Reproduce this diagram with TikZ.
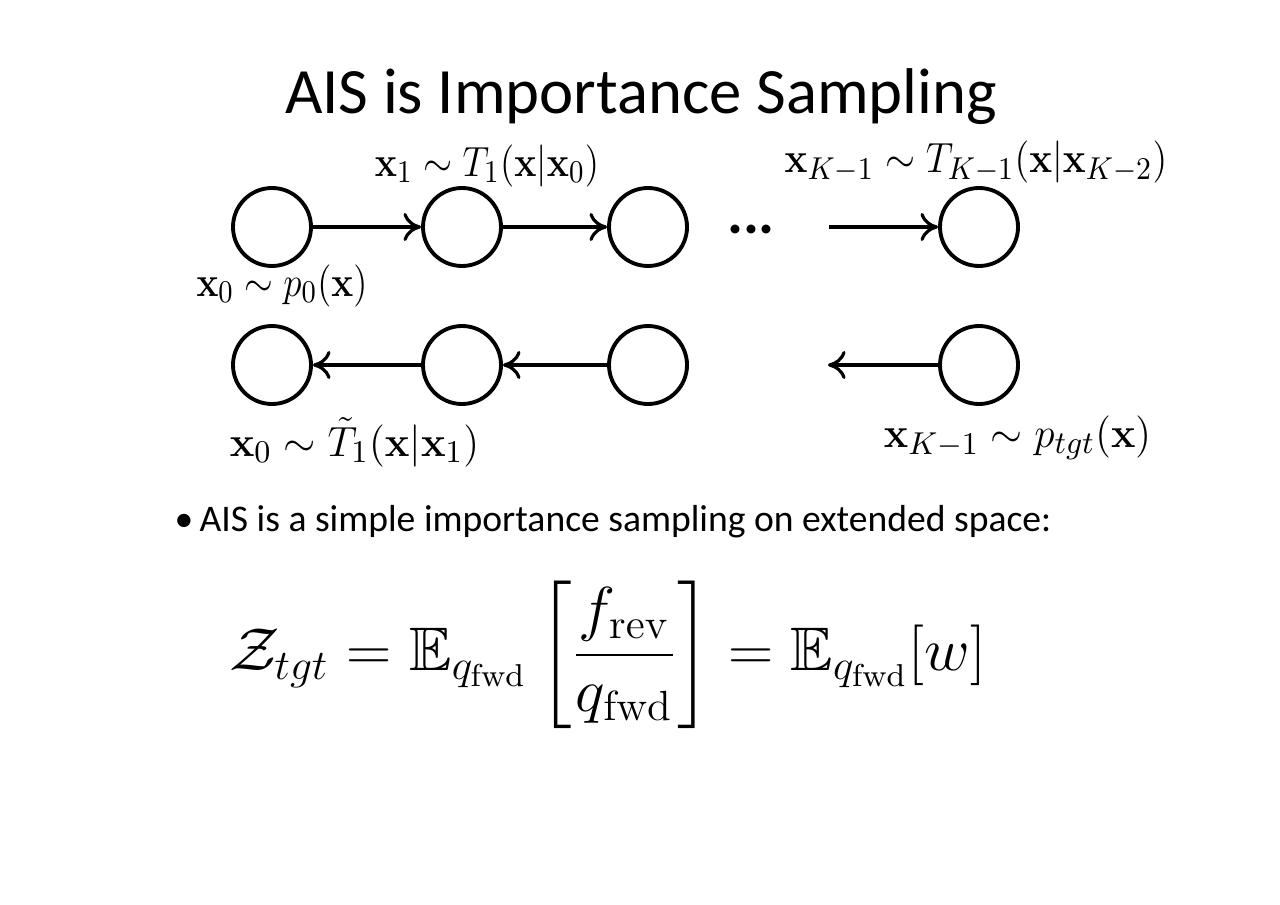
\documentclass[tikz,border=0pt]{standalone}
\usepackage{amsmath,amssymb}
\usepackage{graphicx}
\usepackage[no-math]{fontspec}
\setmainfont{Carlito}
\usetikzlibrary{arrows.meta}
\begin{document}
\begin{tikzpicture}[
  st/.style={circle,draw,line width=1.1pt,minimum size=0.78cm,inner sep=0pt},
  conn/.style={line width=0.9pt,-{To[length=5pt,width=8pt]}},
  lab/.style={inner sep=0pt,font=\fontsize{12.5}{14}\selectfont},
]
\useasboundingbox (0,0) rectangle (12.8,-9.04);
\node[inner sep=0pt,font=\fontsize{18.4}{22}\selectfont] (title) at (6.41,-0.97) {AIS is Importance Sampling};
% top row
\node[st] (a1) at (2.72,-2.27) {};
\node[st] (a2) at (4.62,-2.27) {};
\node[st] (a3) at (6.48,-2.27) {};
\node[st] (a4) at (9.79,-2.27) {};
\node[inner sep=0pt,font=\fontsize{17}{20}\selectfont\bfseries] (dots) at (7.51,-2.30) {...};
\coordinate (t1) at (8.29,-2.27);
\draw[conn] (a1) -- (a2);
\draw[conn] (a2) -- (a3);
\draw[conn] (t1) -- (a4);
% bottom row
\node[st] (b1) at (2.72,-3.65) {};
\node[st] (b2) at (4.62,-3.65) {};
\node[st] (b3) at (6.48,-3.65) {};
\node[st] (b4) at (9.79,-3.65) {};
\coordinate (t2) at (8.28,-3.65);
\draw[conn] (b2) -- (b1);
\draw[conn] (b3) -- (b2);
\draw[conn] (b4) -- (t2);
% labels
\node[lab] (l1) at (4.87,-1.66) {\scalebox{0.885}[1]{$\mathbf{x}_1 \sim T_1(\mathbf{x}|\mathbf{x}_0)$}};
\node[lab] (l2) at (9.76,-1.62) {\scalebox{0.914}[1]{$\mathbf{x}_{K-1} \sim T_{K-1}(\mathbf{x}|\mathbf{x}_{K-2})$}};
\node[lab] (l3) at (2.82,-2.86) {\scalebox{0.876}[1]{$\mathbf{x}_0 \sim p_0(\mathbf{x})$}};
\node[lab] (l4) at (3.545,-4.42) {\scalebox{0.984}[1]{$\mathbf{x}_0 \sim \tilde{T}_1(\mathbf{x}|\mathbf{x}_1)$}};
\node[lab] (l5) at (10.175,-4.38) {\scalebox{0.975}[1]{$\mathbf{x}_{K-1} \sim p_{tgt}(\mathbf{x})$}};
% bullet
\node[inner sep=0pt,anchor=west,font=\fontsize{10.7}{12}\selectfont] (bul) at (1.74,-5.22) {•\,AIS is a simple importance sampling on extended space:};
% equation
\node[inner sep=0pt,font=\fontsize{17.5}{20}\selectfont] (eq) at (6.075,-6.55) {\scalebox{1.034}[1]{$\displaystyle \mathcal{Z}_{tgt} = \mathbb{E}_{q_{\mathrm{fwd}}}\left[\frac{f_{\mathrm{rev}}}{q_{\mathrm{fwd}}}\right] = \mathbb{E}_{q_{\mathrm{fwd}}}[w]$}};
\end{tikzpicture}
\end{document}
